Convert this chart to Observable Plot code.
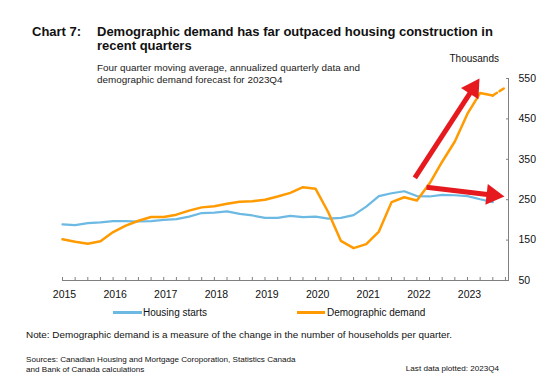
<!DOCTYPE html>
<html><head><meta charset="utf-8">
<script src="https://cdn.jsdelivr.net/npm/d3@7"></script>
<script src="https://cdn.jsdelivr.net/npm/@observablehq/plot@0.6"></script>
<style>
body{margin:0;background:#fff;font-family:"Liberation Sans",Arial,sans-serif;}
#wrap{position:relative;width:554px;height:377px;overflow:hidden;background:#fff;}
#chart{position:absolute;left:0;top:0;}
.t{position:absolute;white-space:nowrap;color:#111;line-height:1;}
.sw{position:absolute;height:3px;}
</style></head><body>
<div id="wrap"><div id="chart"></div></div>
<script>
// ---- data ----
const years = ["2015","2016","2017","2018","2019","2020","2021","2022","2023"];
// quarterly index: 0 = 2015Q1 ... 35 = 2023Q4
const housingStarts = [189,187,192,194,197,197,196,197,200,202,208,217,218,221,215,211,205,205,210,207,208,203,205,212,233,259,266,271,259,258,262,261,259,251,244];
const demographicDemand = [152,146,141,147,170,186,198,207,207,213,223,231,234,240,245,246,250,258,267,281,277,219,148,130,140,171,244,256,248,290,344,394,463,514,508,528];
const yTicks = [50,150,250,350,450,550];
const seriesNames = ["Housing starts","Demographic demand"];
// annotation arrows (tail -> tip), data coordinates
const arrowTailX = [27.84, 28.76];
const arrowTailY = [304, 281];
const arrowTipX = [32.95, 34.92];
const arrowTipY = [550, 258];

// ---- layout ----
const W = 554, H = 377, mL = 62, mR = 46, mT = 78, mB = 97;
const xDomain = [0, 35.24], yDomain = [50, 550];
const blue = "#6cb9e3", orange = "#ff9a00", red = "#e5191e", axisGray = "#808080";

const hs = housingStarts.map((v, i) => ({i, v}));
const dd = demographicDemand.slice(0, 35).map((v, i) => ({i, v}));
const ddFc = demographicDemand.slice(34).map((v, k) => ({i: 34 + k, v}));

// arrow geometry in pixels (same mapping as the plot's scales)
const px = d3.scaleLinear(xDomain, [mL, W - mR]);
const py = d3.scaleLinear(yDomain, [H - mB, mT]);
const shafts = [], heads = [];
arrowTailX.forEach((_, k) => {
  const x0 = px(arrowTailX[k]), y0 = py(arrowTailY[k]);
  const x1 = px(arrowTipX[k]), y1 = py(arrowTipY[k]);
  const len = Math.hypot(x1 - x0, y1 - y0), ux = (x1 - x0) / len, uy = (y1 - y0) / len;
  shafts.push({x1: arrowTailX[k], y1: arrowTailY[k], x2: px.invert(x1 - 15 * ux), y2: py.invert(y1 - 15 * uy)});
  heads.push({x: px.invert(x1 - 12 * ux), y: py.invert(y1 - 12 * uy), rot: Math.atan2(ux, -uy) * 180 / Math.PI});
});

const plot = Plot.plot({
  width: W, height: H,
  marginLeft: mL, marginRight: mR, marginTop: mT, marginBottom: mB,
  style: {fontFamily: "'Liberation Sans', Arial, sans-serif", fontSize: "10.5px", color: "#111", background: "transparent"},
  x: {domain: xDomain},
  y: {domain: yDomain},
  marks: [
    Plot.ruleY([yDomain[0]], {stroke: axisGray}),
    Plot.ruleX([xDomain[1]], {stroke: axisGray}),
    Plot.axisX({ticks: d3.range(36), tickSize: -3, tickFormat: () => "", stroke: axisGray, label: null}),
    Plot.axisX({ticks: d3.range(0, 36, 4), tickSize: 0, tickPadding: 10, dx: 2, tickFormat: (i) => years[i / 4], label: null}),
    Plot.axisY({anchor: "right", ticks: yTicks, tickSize: -3, tickPadding: 13, stroke: axisGray, label: null}),
    Plot.line(hs, {x: "i", y: "v", stroke: blue, strokeWidth: 2.2}),
    Plot.line(dd, {x: "i", y: "v", stroke: orange, strokeWidth: 2.5}),
    Plot.line(ddFc, {x: "i", y: "v", stroke: orange, strokeWidth: 2.5, strokeDasharray: "5,3"}),
    Plot.link(shafts, {x1: "x1", y1: "y1", x2: "x2", y2: "y2", stroke: red, strokeWidth: 5}),
    Plot.dot(heads, {x: "x", y: "y", symbol: "triangle", r: 7.7, fill: red, stroke: "none", rotate: "rot"})
  ]
});
document.getElementById("chart").appendChild(plot);

// ---- texts (positioned by baseline) ----
const wrap = document.getElementById("wrap");
function txt(s, x, base, fs, opts = {}) {
  const d = document.createElement("div");
  d.className = "t";
  d.textContent = s;
  d.style.fontSize = fs + "px";
  d.style.top = (base - 0.8465 * fs) + "px";
  if (opts.right) { d.style.right = (W - x) + "px"; } else { d.style.left = x + "px"; }
  if (opts.bold) d.style.fontWeight = "bold";
  if (opts.color) d.style.color = opts.color;
  wrap.appendChild(d);
  return d;
}
txt("Chart 7:", 32, 36, 13, {bold: true});
txt("Demographic demand has far outpaced housing construction in", 97, 36, 13, {bold: true});
txt("recent quarters", 97, 50, 13, {bold: true});
txt("Four quarter moving average, annualized quarterly data and", 97, 71.5, 9.9, {color: "#222"});
txt("demographic demand forecast for 2023Q4", 97, 83, 9.9, {color: "#222"});
txt("Thousands", 499, 62, 10, {right: true});
// legend
function swatch(x, y, w, c) {
  const s = document.createElement("div");
  s.className = "sw"; s.style.left = x + "px"; s.style.top = (y - 1.5) + "px"; s.style.width = w + "px"; s.style.background = c;
  wrap.appendChild(s);
}
swatch(113, 312.5, 29, blue);
txt(seriesNames[0], 143, 316, 10);
swatch(297, 312.5, 28, orange);
txt(seriesNames[1], 327, 316, 10);
txt("Note: Demographic demand is a measure of the change in the number of households per quarter.", 26, 338, 9.9);
txt("Sources: Canadian Housing and Mortgage Coroporation, Statistics Canada", 26, 362.5, 8.1);
txt("and Bank of Canada calculations", 26, 373, 8.1);
txt("Last data plotted: 2023Q4", 499, 371.5, 8.1, {right: true});
</script>
</body></html>
